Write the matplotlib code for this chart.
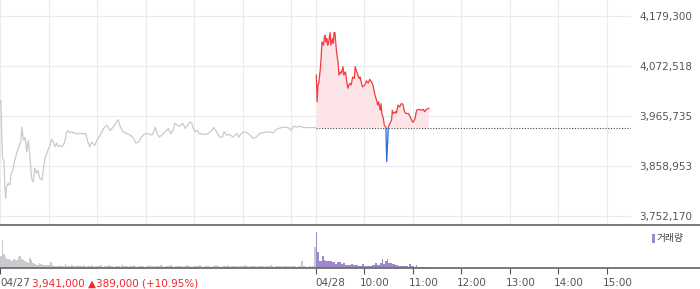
import numpy as np
import matplotlib
matplotlib.use('Agg')
import matplotlib.pyplot as plt
from matplotlib.patches import Rectangle
from matplotlib.lines import Line2D

# x axis = minutes since 09:00 of 04/27 (0..390 = 04/27, 390..780 = 04/28)
prev_t = [0, 1, 3, 5, 6, 7, 8, 10, 12, 14, 16, 17, 19, 21, 23, 24, 26, 27, 29, 31,
          33, 35, 37, 39, 41, 43, 45, 47, 49, 52, 54, 56, 58, 60, 62, 64, 66, 68, 70, 72,
          74, 76, 78, 80, 82, 84, 87, 89, 91, 93, 95, 99, 103, 106, 109, 111, 113, 117, 120, 124,
          128, 132, 136, 140, 144, 146, 148, 150, 152, 157, 161, 165, 168, 171, 175, 179, 183, 188, 190, 192,
          194, 197, 200, 204, 208, 211, 214, 216, 219, 222, 226, 229, 232, 235, 237, 239, 241, 244, 246, 249,
          253, 257, 262, 264, 266, 269, 272, 275, 277, 280, 284, 288, 293, 295, 298, 301, 305, 309, 313, 317,
          321, 325, 330, 334, 338, 340, 344, 348, 352, 356, 360, 363, 367, 371, 375, 379, 383, 390]
prev_p = [3999000, 3999000, 3878000, 3868000, 3814000, 3790000, 3814000, 3822000, 3818000, 3844000,
          3850000, 3861000, 3876000, 3889000, 3897000, 3903000, 3914000, 3942000, 3914000, 3920000,
          3889000, 3914000, 3878000, 3833000, 3825000, 3854000, 3844000, 3850000, 3833000, 3829000,
          3857000, 3878000, 3886000, 3897000, 3903000, 3916000, 3910000, 3900000, 3908000, 3900000,
          3903000, 3900000, 3903000, 3910000, 3929000, 3934000, 3930000, 3932000, 3929000, 3930000,
          3927000, 3929000, 3927000, 3929000, 3908000, 3900000, 3910000, 3903000, 3914000, 3925000,
          3939000, 3946000, 3935000, 3942000, 3953000, 3958000, 3946000, 3939000, 3932000, 3928000,
          3925000, 3918000, 3908000, 3910000, 3921000, 3928000, 3928000, 3925000, 3932000, 3942000,
          3928000, 3921000, 3925000, 3932000, 3939000, 3928000, 3935000, 3950000, 3946000, 3944000,
          3950000, 3939000, 3946000, 3953000, 3951000, 3939000, 3932000, 3935000, 3928000, 3928000,
          3926000, 3928000, 3935000, 3941000, 3937000, 3928000, 3920000, 3921000, 3932000, 3925000,
          3926000, 3921000, 3928000, 3920000, 3928000, 3932000, 3930000, 3925000, 3918000, 3921000,
          3928000, 3930000, 3932000, 3931000, 3930000, 3935000, 3939000, 3941000, 3942000, 3941000,
          3935000, 3944000, 3942000, 3944000, 3941000, 3941000, 3941000, 3941000]

today_t = [391, 392, 393, 394, 396, 397, 398, 400, 401, 402, 403, 404, 405, 406, 408, 409, 411, 412, 413, 414,
           416, 418, 419, 421, 422, 424, 425, 427, 429, 430, 432, 434, 436, 438, 439, 441, 444, 445, 447, 448,
           451, 453, 455, 457, 459, 461, 463, 466, 467, 468, 470, 471, 472, 474, 475, 477, 478, 480, 482, 484,
           485, 486, 489, 490, 492, 494, 496, 498, 500, 502, 505, 507, 510, 511, 513, 515, 518, 521, 523, 525,
           527, 530]
today_p = [4053000, 3996000, 4032000, 4035000, 4067000, 4092000, 4124000, 4117000, 4135000, 4138000,
           4124000, 4131000, 4117000, 4121000, 4144000, 4117000, 4131000, 4121000, 4144000, 4144000,
           4103000, 4078000, 4053000, 4060000, 4057000, 4071000, 4053000, 4060000, 4035000, 4025000,
           4035000, 4032000, 4049000, 4046000, 4071000, 4060000, 4046000, 4049000, 4035000, 4028000,
           4032000, 4041000, 4036000, 4044000, 4039000, 4032000, 4014000, 3996000, 3989000, 3996000,
           3978000, 3992000, 3971000, 3960000, 3946000, 3942000, 3868000, 3942000, 3950000, 3957000,
           3978000, 3971000, 3975000, 3972000, 3989000, 3985000, 3992000, 3991000, 3975000, 3971000,
           3971000, 3964000, 3953000, 3953000, 3960000, 3978000, 3980000, 3978000, 3980000, 3975000,
           3980000, 3982000]

base_price = 3941000
y_ticks = [3752170, 3858953, 3965735, 4072518, 4179300]

# volume, 2 minute bins
prev_vol = [120, 280, 140, 110, 90, 95, 80, 75, 90, 85,
            80, 110, 120, 90, 80, 75, 60, 55, 100, 80,
            50, 45, 30, 35, 50, 45, 30, 35, 30, 30,
            35, 60, 30, 25, 20, 25, 20, 30, 20, 25,
            40, 25, 20, 20, 30, 20, 25, 20, 35, 20,
            25, 30, 20, 15, 20, 25, 30, 20, 15, 20,
            25, 20, 30, 15, 20, 25, 20, 30, 25, 20,
            15, 20, 25, 20, 15, 30, 20, 25, 20, 15,
            20, 25, 30, 20, 15, 20, 25, 20, 20, 15,
            25, 20, 30, 25, 20, 15, 20, 25, 20, 30,
            20, 15, 25, 20, 20, 30, 20, 15, 20, 25,
            20, 25, 20, 15, 20, 30, 25, 20, 15, 20,
            25, 20, 20, 30, 20, 15, 20, 25, 20, 20,
            15, 25, 20, 30, 20, 20, 15, 25, 20, 20,
            30, 20, 15, 20, 25, 20, 20, 15, 25, 20,
            20, 30, 20, 15, 20, 25, 20, 20, 15, 20,
            25, 20, 20, 15, 25, 20, 20, 30, 20, 15,
            20, 25, 20, 20, 15, 20, 25, 20, 20, 15,
            20, 25, 20, 15, 20, 20, 70, 25, 20, 15,
            15, 20, 15, 20, 210]
today_vol = [360, 165, 70, 75, 120, 80, 75, 70, 70, 72,
             60, 62, 40, 60, 62, 58, 40, 50, 30, 32,
             30, 28, 40, 30, 28, 32, 20, 22, 18, 40,
             20, 22, 18, 20, 22, 30, 28, 50, 30, 32,
             50, 90, 40, 70, 90, 50, 48, 40, 38, 30,
             28, 20, 18, 20, 22, 18, 20, 15, 40, 20,
             18, 15, 30, 15, 12, 15, 12, 15, 12, 10]

tick_pos = [0, 390, 450, 510, 570, 630, 690, 750]
tick_lbl = ['04/27', '04/28', '10:00', '11:00', '12:00', '13:00', '14:00', '15:00']
grid_x = [0, 60, 120, 180, 240, 300, 360, 390, 450, 510, 570, 630, 690, 750]

RED = '#f53a3f'
BLUE = '#2d6fd6'
GRAY = '#c9cacd'
PURPLE = '#9d88c8'
TXT = '#555555'
W, H = 700, 289

fig = plt.figure(figsize=(W / 100, H / 100), dpi=100)
ax = fig.add_axes([0, 64 / H, 631 / W, 225 / H])
axv = fig.add_axes([0, 21 / H, 631 / W, 42 / H])

# price panel
ax.set_xlim(0, 780)
ax.set_ylim(3732949, 4213470)
for gx in grid_x:
    ax.axvline(gx, color='#ebebeb', lw=0.8, zorder=0)
for gy in y_ticks:
    ax.axhline(gy, color='#ebebeb', lw=0.8, zorder=0)

ax.plot(prev_t, prev_p, color=GRAY, lw=0.9, zorder=3)

tt = np.array(today_t)
pp = np.array(today_p)
ax.fill_between(tt, pp, base_price, where=pp >= base_price, interpolate=True,
                color='#fde4e6', lw=0, zorder=1)
ax.fill_between(tt, pp, base_price, where=pp <= base_price, interpolate=True,
                color='#d6e4f8', lw=0, zorder=1)
up, = ax.plot(tt, pp, color=RED, lw=0.9, zorder=3)
dn, = ax.plot(tt, pp, color=BLUE, lw=0.9, zorder=3)
up.set_clip_path(Rectangle((0, base_price), 800, 1e6, transform=ax.transData))
dn.set_clip_path(Rectangle((0, base_price - 1e6), 800, 1e6, transform=ax.transData))
ax.plot([390, 780], [base_price, base_price], color='#444444', lw=0.8,
        ls=(0, (1, 1.5)), zorder=2)

ax.set_xticks([])
ax.yaxis.tick_right()
ax.set_yticks(y_ticks)
ax.set_yticklabels([f'{v:,}' for v in y_ticks])
ax.tick_params(axis='y', length=0, pad=6, labelsize=7.5, labelcolor=TXT)
for s in ax.spines.values():
    s.set_visible(False)
ax.patch.set_alpha(0)

# volume panel
axv.set_xlim(0, 780)
axv.set_ylim(0, 420)
axv.bar(np.arange(0, 390, 2), prev_vol, width=2, align='edge', color=GRAY, lw=0)
axv.bar(np.arange(390, 390 + 2 * len(today_vol), 2), today_vol, width=2, align='edge',
        color=PURPLE, lw=0)
axv.set_yticks([])
axv.set_xticks(tick_pos)
axv.set_xticklabels([])
axv.tick_params(axis='x', length=4, width=0.8, color='#555555', direction='out')
for s in axv.spines.values():
    s.set_visible(False)
axv.patch.set_alpha(0)

# tick labels
for p, lbl in zip(tick_pos, tick_lbl):
    px = p * 631 / 780
    if lbl in ('04/27', '04/28'):
        px = px + 0
    else:
        px = px - 4
    fig.text(px / W, 1 - 283 / H, lbl, ha='left', va='center', fontsize=7.5, color=TXT)
fig.text(32 / W, 1 - 283 / H, '3,941,000 \u25b2389,000 (+10.95%)', ha='left', va='center',
         fontsize=7.5, color='#f0282d')

# legend
fig.add_artist(Rectangle((652 / W, 1 - 243 / H), 3 / W, 9 / H, transform=fig.transFigure,
                         color=PURPLE, lw=0))
fig.text(657 / W, 1 - 238.5 / H, '거래량', ha='left', va='center', fontsize=7,
         color='#444444', family=['Noto Sans CJK KR', 'DejaVu Sans'])

# dark separator lines
for yy in (225, 268):
    fig.add_artist(Line2D([0, 1], [1 - yy / H, 1 - yy / H], transform=fig.transFigure,
                          color='#6e6e6e', lw=1.3))

fig.savefig('out.png', dpi=100)
